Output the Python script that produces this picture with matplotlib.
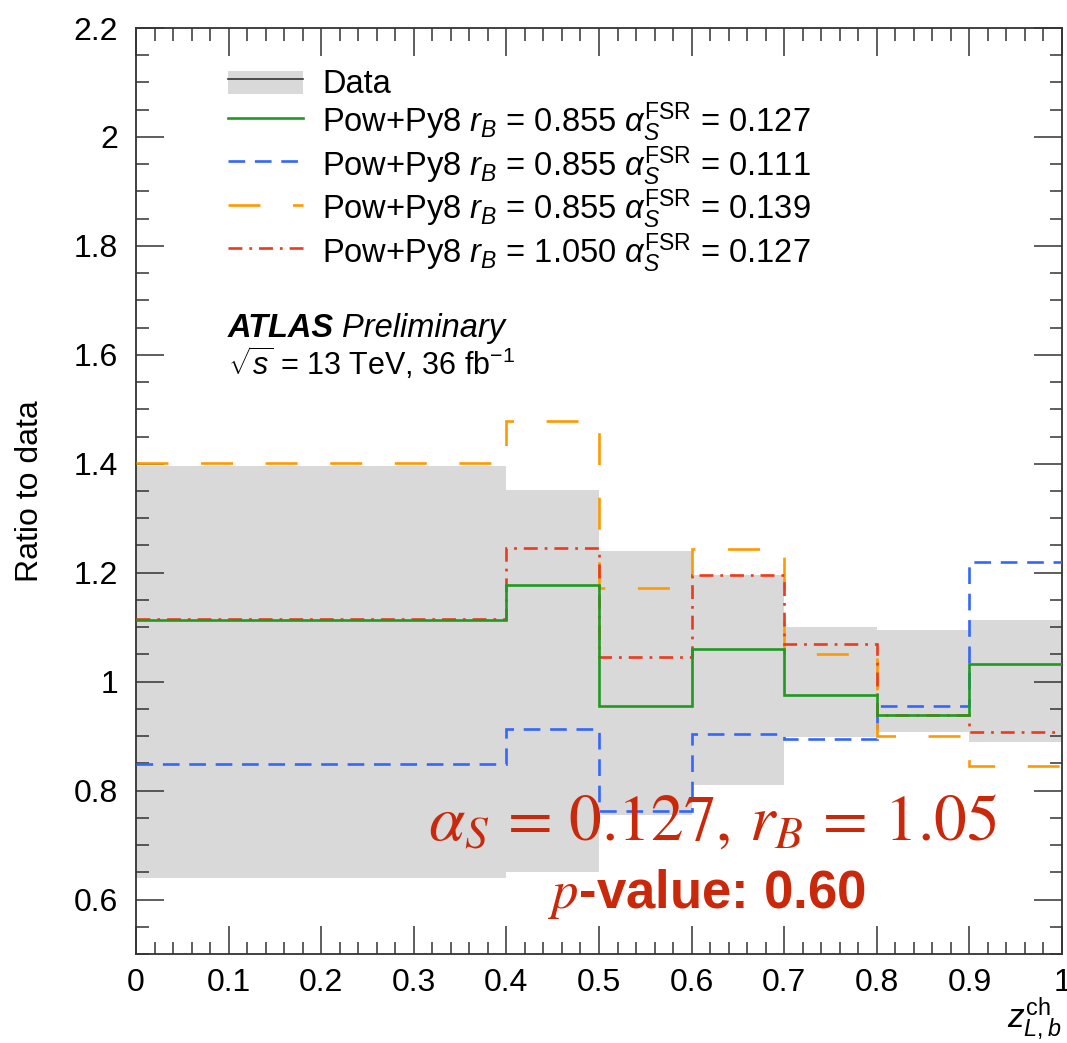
import numpy as np
import matplotlib
matplotlib.use("Agg")
import matplotlib.pyplot as plt
from matplotlib.lines import Line2D
from matplotlib.patches import Patch, Rectangle
from matplotlib.legend_handler import HandlerPatch

plt.rcParams['font.family'] = ['Liberation Sans', 'DejaVu Sans']
plt.rcParams['mathtext.fontset'] = 'custom'
plt.rcParams['mathtext.rm'] = 'Liberation Sans'
plt.rcParams['mathtext.it'] = 'Liberation Sans:italic'
plt.rcParams['mathtext.bf'] = 'Liberation Sans:bold'
plt.rcParams['lines.scale_dashes'] = False

# ---------------- data ----------------
bin_edges = [0.0, 0.4, 0.5, 0.6, 0.7, 0.8, 0.9, 1.0]
data_up   = [1.396, 1.351, 1.240, 1.196, 1.101, 1.094, 1.114]
data_down = [0.640, 0.650, 0.756, 0.810, 0.899, 0.908, 0.889]
powpy8_rb0855_as0127 = [1.113, 1.177, 0.955, 1.060, 0.976, 0.938, 1.032]
powpy8_rb0855_as0111 = [0.849, 0.913, 0.762, 0.903, 0.895, 0.956, 1.220]
powpy8_rb0855_as0139 = [1.402, 1.479, 1.172, 1.243, 1.050, 0.900, 0.846]
powpy8_rb1050_as0127 = [1.115, 1.245, 1.045, 1.196, 1.069, 0.939, 0.907]

labels = [
    'Data',
    r'Pow+Py8 $r_B$ = 0.855 $\alpha_S^{\mathrm{FSR}}$ = 0.127',
    r'Pow+Py8 $r_B$ = 0.855 $\alpha_S^{\mathrm{FSR}}$ = 0.111',
    r'Pow+Py8 $r_B$ = 0.855 $\alpha_S^{\mathrm{FSR}}$ = 0.139',
    r'Pow+Py8 $r_B$ = 1.050 $\alpha_S^{\mathrm{FSR}}$ = 0.127',
]

# ---------------- style ----------------
c_band = '#d9d9d9'
c_green = '#1f9a1f'
c_blue = '#3366ff'
c_orange = '#ff9900'
c_red = '#ee3a1c'
c_text = '#c9280a'
lw = 1.9
ls_blue = (0, (12.0, 7.0))
ls_orange = (0, (23.0, 23.5))
ls_red = (0, (10.0, 5.0, 2.0, 5.0))

W, H = 1067, 1043
fig = plt.figure(figsize=(W / 100, H / 100), dpi=100)
ax = fig.add_axes([136 / W, 1 - 954 / H, 926 / W, 926 / H])

ax.stairs(data_up, bin_edges, baseline=data_down, fill=True,
          color=c_band, linewidth=0, zorder=1)
ax.stairs(powpy8_rb0855_as0111, bin_edges, baseline=None, color=c_blue,
          lw=lw, linestyle=ls_blue, zorder=3)
ax.stairs(powpy8_rb0855_as0139, bin_edges, baseline=None, color=c_orange,
          lw=lw, linestyle=ls_orange, zorder=3)
ax.stairs(powpy8_rb1050_as0127, bin_edges, baseline=None, color=c_red,
          lw=lw, linestyle=ls_red, zorder=4)
ax.stairs(powpy8_rb0855_as0127, bin_edges, baseline=None, color=c_green,
          lw=lw, linestyle='-', zorder=5)

ax.set_xlim(0, 1)
ax.set_ylim(0.5, 2.2)
ax.set_xticks(np.arange(0, 1.01, 0.1))
ax.set_xticklabels(['0', '0.1', '0.2', '0.3', '0.4', '0.5', '0.6', '0.7', '0.8', '0.9', '1'])
ax.set_xticks(np.arange(0, 1.001, 0.02), minor=True)
ax.set_yticks(np.arange(0.6, 2.21, 0.2))
ax.set_yticklabels(['0.6', '0.8', '1', '1.2', '1.4', '1.6', '1.8', '2', '2.2'])
ax.set_yticks(np.arange(0.5, 2.201, 0.05), minor=True)
ax.tick_params(which='both', direction='in', top=True, right=True,
               color='#333333', width=1.1)
ax.tick_params(which='major', length=20, labelsize=23)
ax.tick_params(which='minor', length=9)
ax.tick_params(axis='x', which='major', pad=10)
ax.tick_params(axis='y', which='major', pad=13)
for s in ax.spines.values():
    s.set_linewidth(1.3)
    s.set_color('#333333')

# axis titles
ax.text((30 - 136) / 926, 0.5, 'Ratio to data', rotation=90, fontsize=23,
        ha='center', va='center', transform=ax.transAxes)
ax.text(1.0, (954 - 1028) / 926, r'$z_{L,b}^{\mathrm{ch}}$', fontsize=24,
        ha='right', va='baseline', transform=ax.transAxes)


# legend
def small_box(legend, orig_handle, xdescent, ydescent, width, height, fontsize):
    h = 0.62 * height
    return Rectangle((-xdescent, -ydescent + (height - h) / 2), width, h)


h_data = (Patch(facecolor=c_band, edgecolor='none'), Line2D([], [], color='#333333', lw=1.2))
h_g = Line2D([], [], color=c_green, lw=lw)
h_b = Line2D([], [], color=c_blue, lw=lw, linestyle=ls_blue)
h_o = Line2D([], [], color=c_orange, lw=lw, linestyle=ls_orange)
h_r = Line2D([], [], color=c_red, lw=lw, linestyle=ls_red)
leg = ax.legend([h_data, h_g, h_b, h_o, h_r], labels, loc='upper left',
                bbox_to_anchor=((228 - 136) / 926, (954 - 64) / 926),
                frameon=False, fontsize=23.5, handlelength=2.3, handleheight=1.35,
                handletextpad=0.59, labelspacing=0.0, borderpad=0, borderaxespad=0,
                handler_map={Patch: HandlerPatch(patch_func=small_box)})

# ATLAS labels
t_atlas = ax.text((228 - 136) / 926, (954 - 337) / 926, 'ATLAS', fontsize=23.5,
                  fontweight='bold', fontstyle='italic', transform=ax.transAxes,
                  va='baseline')
ax.annotate('Preliminary', xy=(1, 0), xycoords=t_atlas, xytext=(6, 0),
            textcoords='offset points', fontsize=23.5, fontstyle='italic',
            va='bottom', ha='left')
ax.text((228 - 136) / 926, (954 - 375) / 926,
        r'$\sqrt{s}$ = 13 TeV, 36 fb$^{-1}$', fontsize=22,
        transform=ax.transAxes, va='baseline')

# fit result
ax.text((428 - 136) / 926, (954 - 840) / 926,
        r'$\alpha_S\, =\, 0.127,\, r_B\, =\, 1.05$', fontsize=47, color=c_text,
        math_fontfamily='stix', transform=ax.transAxes, va='baseline', zorder=6)
ax.text((548 - 136) / 926, (954 - 908) / 926, r'$p$-value: 0.60',
        fontsize=38, fontweight='bold', color=c_text, math_fontfamily='stix',
        transform=ax.transAxes, va='baseline', zorder=6)

fig.savefig('out.png', dpi=100)
